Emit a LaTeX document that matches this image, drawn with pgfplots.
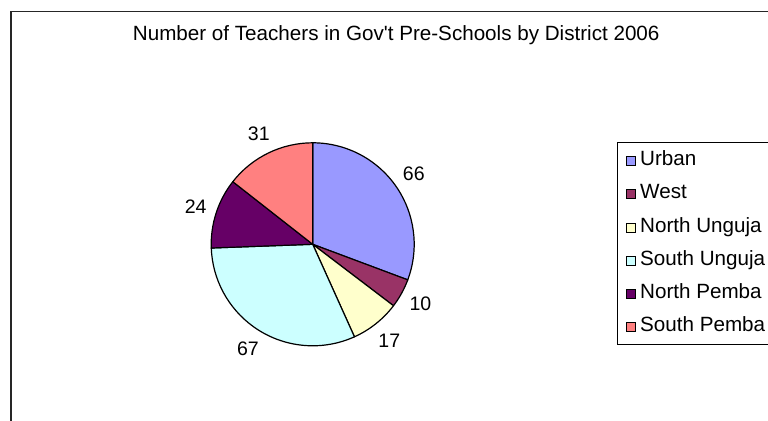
\documentclass[border=0pt]{standalone}
\usepackage{pgfplots}
\pgfplotsset{compat=1.18}
\usepackage{pgfplotstable}
\usepackage{fontspec}
\setmainfont{Liberation Sans}
\definecolor{urban}{HTML}{9999FF}
\definecolor{west}{HTML}{993366}
\definecolor{nunguja}{HTML}{FFFFCC}
\definecolor{sunguja}{HTML}{CCFFFF}
\definecolor{npemba}{HTML}{660066}
\definecolor{spemba}{HTML}{FF8080}
\newcommand\chartfont{\fontsize{20.7}{24}\selectfont}
\newcommand\labelfont{\fontsize{19.6}{24}\selectfont}

\pgfplotstableread{
value color
66 urban
10 west
17 nunguja
67 sunguja
24 npemba
31 spemba
}\pietable

\begin{document}
\begin{tikzpicture}
\begin{axis}[
  scale only axis, width=768bp, height=421bp,
  xmin=0, xmax=768, ymin=0, ymax=421,
  hide axis, clip=false,
  legend style={at={(axis cs:617,278.7)}, anchor=north west,
    draw=black, line width=0.8bp, font=\chartfont,
    inner xsep=9bp, inner ysep=8bp, row sep=13.9bp, column sep=4bp,
    nodes={inner sep=0pt, text height=14.8bp, text depth=4.6bp}},
  legend cell align=left,
]
% frame
\draw[line width=1.4bp, black!85] (axis cs:11,-20) -- (axis cs:11,409.3) -- (axis cs:800,409.3);
% title
\node[font=\chartfont, anchor=base, inner sep=0pt] at (axis cs:396.2,380)
  {Number of Teachers in Gov\textquotesingle t Pre-Schools by District 2006};
% pie
\pgfplotstablegetrowsof{\pietable}
\pgfmathtruncatemacro{\lastrow}{\pgfplotsretval-1}
\def\total{0}
\pgfplotsforeachungrouped \i in {0,...,\lastrow}{%
  \pgfplotstablegetelem{\i}{value}\of\pietable
  \pgfmathsetmacro{\newtotal}{\total+\pgfplotsretval}%
  \global\let\total\newtotal
}
\def\cumangle{90}
\pgfplotsforeachungrouped \i in {0,...,\lastrow}{%
  \pgfplotstablegetelem{\i}{value}\of\pietable
  \let\val\pgfplotsretval
  \pgfplotstablegetelem{\i}{color}\of\pietable
  \let\col\pgfplotsretval
  \pgfmathsetmacro{\endangle}{\cumangle - \val/\total*360}%
  \pgfmathsetmacro{\midangle}{(\cumangle+\endangle)/2}%
  \pgfmathsetmacro{\lx}{312.7+123*cos(\midangle)}%
  \pgfmathsetmacro{\ly}{176.7+123*sin(\midangle)}%
  \edef\temp{%
    \noexpand\filldraw[fill=\col, draw=black, line width=1.2bp, line join=round]
      (axis cs:312.7,176.7) -- ++(\cumangle:101.5bp)
      arc[start angle=\cumangle, end angle=\endangle, radius=101.5bp] -- cycle;
    \noexpand\node[font=\noexpand\labelfont, inner sep=0pt] at (axis cs:\lx,\ly) {\val};
  }%
  \temp
  \global\let\cumangle\endangle
}
% legend
\addlegendimage{legend image code/.code={\draw[fill=urban,draw=black,line width=0.8bp] (0bp,-5bp) rectangle (9bp,4bp);}}
\addlegendentry{Urban}
\addlegendimage{legend image code/.code={\draw[fill=west,draw=black,line width=0.8bp] (0bp,-5bp) rectangle (9bp,4bp);}}
\addlegendentry{West}
\addlegendimage{legend image code/.code={\draw[fill=nunguja,draw=black,line width=0.8bp] (0bp,-5bp) rectangle (9bp,4bp);}}
\addlegendentry{North Unguja}
\addlegendimage{legend image code/.code={\draw[fill=sunguja,draw=black,line width=0.8bp] (0bp,-5bp) rectangle (9bp,4bp);}}
\addlegendentry{South Unguja}
\addlegendimage{legend image code/.code={\draw[fill=npemba,draw=black,line width=0.8bp] (0bp,-5bp) rectangle (9bp,4bp);}}
\addlegendentry{North Pemba}
\addlegendimage{legend image code/.code={\draw[fill=spemba,draw=black,line width=0.8bp] (0bp,-5bp) rectangle (9bp,4bp);}}
\addlegendentry{South Pemba}
\end{axis}
\pgfresetboundingbox
\path[use as bounding box] (current axis.south west) rectangle (current axis.north east);
\end{tikzpicture}
\end{document}
